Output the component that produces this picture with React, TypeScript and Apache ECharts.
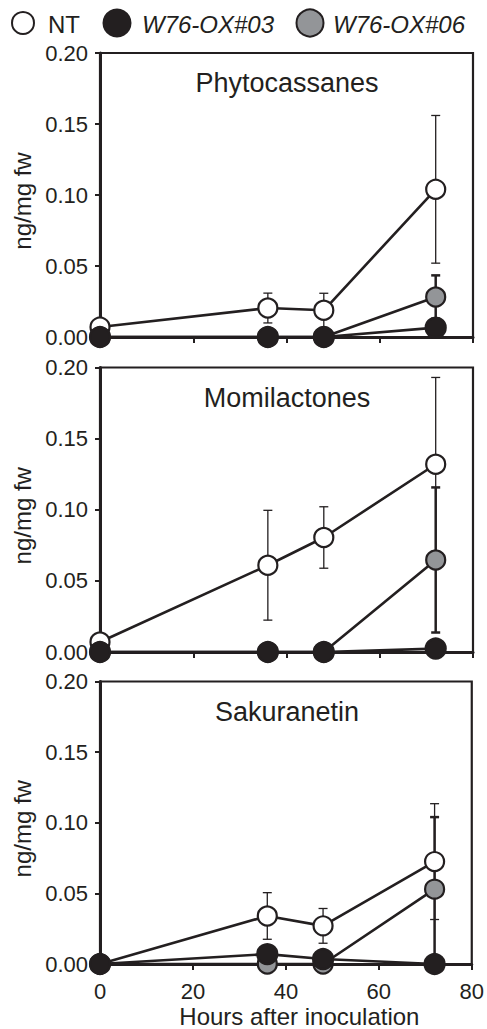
import React, { useEffect, useRef } from "react";
import * as echarts from "echarts";

const hours = [0, 36, 48, 72];
const xTicks = [0, 20, 40, 60, 80];
const yTicks = [0, 0.05, 0.1, 0.15, 0.2];
const panelTitles = ["Phytocassanes", "Momilactones", "Sakuranetin"];
const seriesNames = ["NT", "W76-OX#03", "W76-OX#06"];

// Phytocassanes
const phyNT = [0.007, 0.0204, 0.0188, 0.104];
const phyNTsd = [0.002, 0.0105, 0.012, 0.052];
const phy03 = [0, 0, 0, 0.0066];
const phy03sd = [0, 0, 0, 0.006];
const phy06 = [0, 0, 0, 0.0282];
const phy06sd = [0, 0, 0, 0.0152];

// Momilactones
const momNT = [0.007, 0.061, 0.0805, 0.132];
const momNTsd = [0.002, 0.0386, 0.0216, 0.061];
const mom03 = [0, 0, 0, 0.0024];
const mom03sd = [0, 0, 0, 0.002];
const mom06 = [0, 0, 0, 0.0647];
const mom06sd = [0, 0, 0, 0.051];

// Sakuranetin
const sakNT = [0, 0.034, 0.027, 0.0725];
const sakNTsd = [0, 0.0165, 0.0123, 0.041];
const sak03 = [0, 0.007, 0.0035, 0];
const sak03sd = [0, 0.002, 0.002, 0];
const sak06 = [0, 0, 0, 0.053];
const sak06sd = [0, 0, 0, 0.051];

const INK = "#231f20";
const GRAY = "#939598";
const FONT = "Liberation Sans, Arial, sans-serif";

const panels = [
  { nt: phyNT, ntsd: phyNTsd, b: phy03, bsd: phy03sd, g: phy06, gsd: phy06sd },
  { nt: momNT, ntsd: momNTsd, b: mom03, bsd: mom03sd, g: mom06, gsd: mom06sd },
  { nt: sakNT, ntsd: sakNTsd, b: sak03, bsd: sak03sd, g: sak06, gsd: sak06sd },
];

const grids = [
  { top: 53, height: 284 },
  { top: 367.5, height: 284.5 },
  { top: 681.5, height: 283.5 },
];

function errorSeries(vals: number[], sds: number[], idx: number, width: number, z: number) {
  return {
    type: "custom",
    xAxisIndex: idx,
    yAxisIndex: idx,
    z,
    silent: true,
    clip: false,
    data: hours.map((h, i) => [h, vals[i], sds[i]]),
    encode: { x: 0, y: 1 },
    renderItem: (params: any, api: any) => {
      const x = api.value(0);
      const m = api.value(1);
      const s = api.value(2);
      if (!s) return { type: "group", children: [] };
      const top = api.coord([x, m + s]);
      const bot = api.coord([x, Math.max(0, m - s)]);
      const hw = 4.5;
      const st = { stroke: INK, lineWidth: width };
      return {
        type: "group",
        children: [
          { type: "line", shape: { x1: top[0], y1: top[1], x2: bot[0], y2: bot[1] }, style: st },
          { type: "line", shape: { x1: top[0] - hw, y1: top[1], x2: top[0] + hw, y2: top[1] }, style: st },
          { type: "line", shape: { x1: bot[0] - hw, y1: bot[1], x2: bot[0] + hw, y2: bot[1] }, style: st },
        ],
      };
    },
  };
}

function lineSeries(name: string, vals: number[], idx: number, fill: string, size: number, z: number) {
  return {
    type: "line",
    name,
    xAxisIndex: idx,
    yAxisIndex: idx,
    z,
    clip: false,
    data: hours.map((h, i) => [h, vals[i]]),
    symbol: "circle",
    symbolSize: size,
    showSymbol: true,
    lineStyle: { color: INK, width: 2.6 },
    itemStyle: { color: fill, borderColor: INK, borderWidth: 2.2, opacity: 1 },
    emphasis: { disabled: true },
  };
}

export default function App() {
  const ref = useRef<HTMLDivElement>(null);
  useEffect(() => {
    if (!ref.current) return;
    const chart = echarts.init(ref.current, undefined, { renderer: "svg" });
    const series: any[] = [];
    panels.forEach((p, i) => {
      series.push(errorSeries(p.nt, p.ntsd, i, 1.3, 1));
      series.push(errorSeries(p.g, p.gsd, i, 2.5, 1));
      series.push(errorSeries(p.b, p.bsd, i, 2.5, 1));
      series.push(lineSeries(seriesNames[0], p.nt, i, "#ffffff", 19, 2));
      series.push(lineSeries(seriesNames[2], p.g, i, GRAY, 19, 3));
      series.push(lineSeries(seriesNames[1], p.b, i, INK, 20, 4));
    });

    const option: any = {
      animation: false,
      textStyle: { fontFamily: FONT, color: INK },
      grid: grids.map((g) => ({
        left: 100,
        width: 373,
        top: g.top,
        height: g.height,
        show: true,
        borderColor: INK,
        borderWidth: 2.2,
        backgroundColor: "transparent",
        containLabel: false,
      })),
      xAxis: grids.map((g, i) => ({
        type: "value",
        gridIndex: i,
        min: xTicks[0],
        max: xTicks[xTicks.length - 1],
        interval: 20,
        splitLine: { show: false },
        axisLine: { show: true, onZero: false, lineStyle: { color: INK, width: 3 } },
        axisTick: { show: true, inside: false, length: 6, lineStyle: { color: INK, width: 2 } },
        axisLabel: {
          show: i === 2,
          fontSize: 22,
          color: INK,
          fontFamily: FONT,
          margin: 16,
        },
        name: i === 2 ? "Hours after inoculation" : "",
        nameLocation: "middle",
        nameGap: 40,
        nameTextStyle: { fontSize: 24, color: INK, fontFamily: FONT, padding: [0, 0, 0, 27] },
      })),
      yAxis: grids.map((g, i) => ({
        type: "value",
        gridIndex: i,
        min: yTicks[0],
        max: yTicks[yTicks.length - 1],
        interval: 0.05,
        splitLine: { show: false },
        axisLine: { show: true, onZero: false, lineStyle: { color: INK, width: 3 } },
        axisTick: { show: true, inside: false, length: 5, lineStyle: { color: INK, width: 2 } },
        axisLabel: {
          fontSize: 22,
          color: INK,
          fontFamily: FONT,
          margin: 12,
          formatter: (v: number) => v.toFixed(2),
        },
        name: "ng/mg fw",
        nameLocation: "middle",
        nameGap: 66,
        nameRotate: 90,
        nameTextStyle: { fontSize: 24, color: INK, fontFamily: FONT, padding: [0, 12, 0, 0] },
      })),
      graphic: [
        ...panelTitles.map((t, i) => ({
          type: "text",
          x: 287,
          y: grids[i].top + 30,
          z: 10,
          style: {
            text: t,
            fontSize: 27,
            fontFamily: FONT,
            fill: INK,
            align: "center",
            verticalAlign: "middle",
          },
        })),
        { type: "circle", shape: { cx: 23, cy: 23, r: 11 }, style: { fill: "#ffffff", stroke: INK, lineWidth: 2 } },
        {
          type: "text",
          x: 48,
          y: 24,
          style: { text: seriesNames[0], fontSize: 24, fontFamily: FONT, fill: INK, verticalAlign: "middle" },
        },
        { type: "circle", shape: { cx: 117, cy: 23, r: 14.5 }, style: { fill: INK } },
        {
          type: "text",
          x: 142,
          y: 24,
          style: {
            text: seriesNames[1],
            fontSize: 24,
            fontStyle: "italic",
            fontFamily: FONT,
            fill: INK,
            verticalAlign: "middle",
          },
        },
        { type: "circle", shape: { cx: 310, cy: 23, r: 13.5 }, style: { fill: GRAY, stroke: INK, lineWidth: 2 } },
        {
          type: "text",
          x: 333,
          y: 24,
          style: {
            text: seriesNames[2],
            fontSize: 24,
            fontStyle: "italic",
            fontFamily: FONT,
            fill: INK,
            verticalAlign: "middle",
          },
        },
      ],
      series,
    };
    chart.setOption(option);
    return () => chart.dispose();
  }, []);
  return <div ref={ref} style={{ width: 487, height: 1029, position: "absolute", left: 0, top: 0 }} />;
}
